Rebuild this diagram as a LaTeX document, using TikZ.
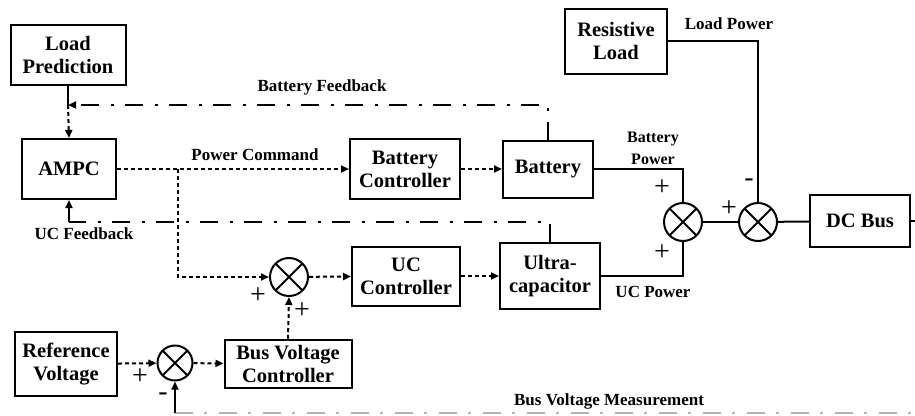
\documentclass[tikz,border=0pt]{standalone}
\usepackage{fontspec}
\setmainfont{Liberation Serif}
\usepackage{tikz}
\usetikzlibrary{positioning, arrows.meta, calc}

\begin{document}
\begin{tikzpicture}[
        x=1pt, y=-1pt,
        blk/.style={draw, line width=2pt, align=center, inner sep=1pt, font=\bfseries\fontsize{20.5}{23}\selectfont},
        sumnode/.style={draw, circle, line width=2pt, minimum size=38pt, inner sep=0pt,
            path picture={\draw[line width=1.8pt]
                (path picture bounding box.north west) -- (path picture bounding box.south east)
                (path picture bounding box.north east) -- (path picture bounding box.south west);}},
        lbl/.style={font=\bfseries\fontsize{17}{22}\selectfont, align=center},
        sgn/.style={font=\fontsize{28}{28}\selectfont, inner sep=0pt},
        arr/.style={-{Triangle[length=8pt, width=7pt]}},
        sig/.style={line width=2pt, dash pattern=on 4pt off 3pt, arr},
        fb/.style={line width=2.2pt, dash pattern=on 18pt off 11pt on 3pt off 12pt},
        pw/.style={line width=2pt},
    ]
    \useasboundingbox (0,0) rectangle (915,415);

    % Blocks
    \node[blk, minimum width=115pt, minimum height=60pt] (lp) at (68,55) {Load\\Prediction};
    \node[blk, minimum width=94pt, minimum height=60pt] (ampc) at (69,169) {AMPC};
    \node[blk, minimum width=110pt, minimum height=60pt] (bc) at (405,169) {Battery\\Controller};
    \node[blk, minimum width=90pt, minimum height=57pt] (bat) at (548,169) {Battery};
    \node[blk, minimum width=102pt, minimum height=65pt] (rl) at (616,41) {Resistive\\Load};
    \node[blk, minimum width=100pt, minimum height=52pt] (dc) at (860,221) {DC Bus};
    \node[blk, minimum width=108pt, minimum height=59pt] (ucc) at (406,276) {UC\\Controller};
    \node[blk, minimum width=100pt, minimum height=66pt] (uc) at (550,276) {Ultra-\\capacitor};
    \node[blk, minimum width=127pt, minimum height=48pt] (bvc) at (288,364) {Bus Voltage\\Controller};
    \node[blk, minimum width=102pt, minimum height=64pt] (rv) at (66,364) {Reference\\Voltage};

    % Summing junctions
    \node[sumnode] (s1) at (683,222) {};
    \node[sumnode] (s2) at (758,222) {};
    \node[sumnode] (s3) at (289,277) {};
    \node[sumnode, minimum size=35pt] (s4) at (175,363) {};

    % Helper points
    \coordinate (bfb) at (68,105);
    \coordinate (ucfb) at (69,222);
    \coordinate (pc) at (178,169);
    \coordinate (bvm) at (175,413);
    \coordinate (out) at (915,221);
    \coordinate (bvmend) at (915,413);

    % Battery feedback
    \draw[pw] (lp.south) -- (bfb);
    \draw[fb, arr] (bat.north) |- (bfb);
    \draw[sig] (bfb) -- (ampc.north);
    \node[lbl] (bfblbl) at (322,87) {Battery Feedback};

    % Power command
    \draw[sig] (ampc) -- (bc);
    \draw[sig] (pc) |- (s3.west);
    \node[lbl] (pclbl) at (255,155) {Power Command};
    \draw[sig] (bc) -- (bat);

    % UC feedback
    \draw[fb] (uc.north) |- (ucfb);
    \draw[pw, arr] (ucfb) -- (ampc.south);
    \node[lbl] (ucfblbl) at (84,234) {UC Feedback};

    % UC branch
    \draw[sig] (s3) -- (ucc);
    \draw[sig] (ucc) -- (uc);
    \draw[sig] (bvc.north) -- (s3.south);
    \node[sgn] (p3a) at (258,296) {+};
    \node[sgn] (p3b) at (302,311) {+};

    % Bus voltage loop
    \draw[sig] (rv) -- (s4);
    \draw[sig] (s4) -- (bvc);
    \draw[fb, gray!60] (bvm) -- (bvmend);
    \draw[pw, arr] (bvm) -- (s4.south);
    \node[sgn] (p4) at (140,377) {+};
    \node[sgn] (m4) at (163,397) {-};
    \node[lbl] (bvmlbl) at (609,401) {Bus Voltage Measurement};

    % Power flows
    \draw[pw] (bat.east) -| (s1.north);
    \draw[pw] (uc.east) -| (s1.south);
    \draw[pw] (s1) -- (s2);
    \draw[pw] (rl.east) -| (s2.north);
    \draw[pw] (s2) -- (dc);
    \draw[pw] (dc.east) -- (out);
    \node[lbl, font=\bfseries\fontsize{16}{22}\selectfont] (bplbl) at (653,148) {Battery\\Power};
    \node[lbl] (ucplbl) at (653,292) {UC Power};
    \node[lbl] (lplbl) at (729,24) {Load Power};
    \node[sgn] (p1a) at (662,188) {+};
    \node[sgn] (p1b) at (662,253) {+};
    \node[sgn] (p2) at (729,209) {+};
    \node[sgn] (m2) at (749,183) {-};
\end{tikzpicture}
\end{document}
